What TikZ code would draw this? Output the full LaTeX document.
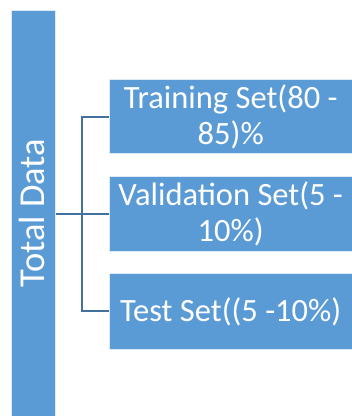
\documentclass[tikz,border=0pt]{standalone}
\usepackage{fontspec}
\setmainfont{Carlito}
\definecolor{boxblue}{HTML}{5B9BD5}
\definecolor{linkblue}{HTML}{41719C}
\begin{document}
\begin{tikzpicture}[x=1pt,y=-1pt,
  setbox/.style={fill=boxblue,draw=white!80!boxblue,line width=0.8pt,
    minimum width=243.3pt,minimum height=74pt,anchor=north west,
    inner sep=0pt,text=white,align=center,
    font=\fontsize{32.5}{36}\selectfont},
  totalbar/.style={fill=boxblue,draw=white!80!boxblue,line width=0.8pt,
    minimum width=44pt,minimum height=410pt,anchor=north west,inner sep=0pt},
  link/.style={draw=linkblue,line width=2pt}]
\useasboundingbox (0,0) rectangle (352,416);
% whole data column
\node[totalbar] (total) at (11,10) {};
\node[rotate=90,text=white,font=\fontsize{36.5}{40}\selectfont] (totaltext) at (32,213) {Total Data};
% the three subsets
\node[setbox] (train) at (108.7,79) {Training Set(80 -\\85)\%};
\node[setbox,minimum height=75pt] (valid) at (108.7,176) {Validation Set(5 -\\10\%)};
\node[setbox,minimum height=76pt] (test) at (108.7,273) {Test Set((5 -10\%)};
% bracket joining the column to the subsets
\coordinate (hub) at (82,214);
\draw[link] (total.east |- hub) -- (valid.west |- hub);
\draw[link] (train.west |- 0,117) -| (hub) |- (test.west |- 0,311);
\end{tikzpicture}
\end{document}
